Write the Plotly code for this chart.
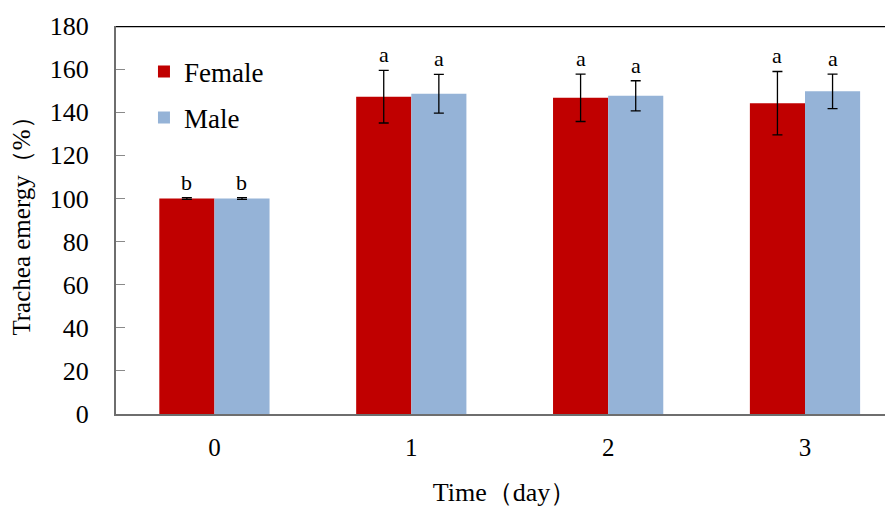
import plotly.graph_objects as go

days = [0, 1, 2, 3]
day_labels = ["0", "1", "2", "3"]
female = [100.0, 147.2, 146.7, 144.2]
female_err = [0.4, 12.2, 11.0, 14.7]
male = [100.0, 148.6, 147.6, 149.7]
male_err = [0.4, 9.0, 7.0, 8.0]
female_sig = ["b", "a", "a", "a"]
male_sig = ["b", "a", "a", "a"]

FONT = "Liberation Serif"
RED = "#C00000"
BLUE = "#95B3D7"
BARGAP = 0.44
half = (1 - BARGAP) / 4  # offset of each bar center from category center

fig = go.Figure()
fig.add_trace(go.Bar(
    x=days, y=female, name="Female", marker=dict(color=RED, line=dict(width=0)),
    error_y=dict(type="data", array=female_err, color="black", thickness=1.3, width=5),
    legendgroup="f",
))
fig.add_trace(go.Bar(
    x=days, y=male, name="Male", marker=dict(color=BLUE, line=dict(width=0)),
    error_y=dict(type="data", array=male_err, color="black", thickness=1.3, width=5),
    legendgroup="m",
))

for d, v, e, s in zip(days, female, female_err, female_sig):
    fig.add_annotation(x=d - half, y=v + e, text=s, showarrow=False, yanchor="bottom",
                       yshift=1, font=dict(family=FONT, size=22, color="black"))
for d, v, e, s in zip(days, male, male_err, male_sig):
    fig.add_annotation(x=d + half, y=v + e, text=s, showarrow=False, yanchor="bottom",
                       yshift=1, font=dict(family=FONT, size=22, color="black"))

# top frame line
fig.add_shape(type="line", xref="paper", x0=0, x1=1, yref="y", y0=180, y1=180,
              line=dict(color="black", width=2.5))

fig.update_layout(
    width=885, height=499,
    margin=dict(l=108, r=0, t=18, b=93, autoexpand=False),
    paper_bgcolor="white", plot_bgcolor="white",
    barmode="group", bargap=BARGAP, bargroupgap=0,
    font=dict(family=FONT, color="black"),
    showlegend=True,
    legend=dict(x=0.036, y=0.945, xanchor="left", yanchor="top",
                font=dict(family=FONT, size=27, color="black"),
                bgcolor="rgba(0,0,0,0)", tracegroupgap=8),
    xaxis=dict(
        tickmode="array", tickvals=days, ticktext=day_labels,
        range=[-0.5, 3.447], showline=True, linecolor="#6e6e6e", linewidth=2,
        ticks="", showgrid=False, zeroline=False, ticklabelstandoff=10,
        tickfont=dict(family=FONT, size=25, color="black"),
        title=dict(text="Time（day）", font=dict(family=FONT, size=26, color="black"), standoff=28),
    ),
    yaxis=dict(
        range=[0, 180], tickmode="linear", tick0=0, dtick=20,
        showline=True, linecolor="#6e6e6e", linewidth=2,
        ticks="inside", ticklen=9, tickcolor="#8a8a8a", tickwidth=1,
        showgrid=False, zeroline=False, ticklabelstandoff=20,
        tickfont=dict(family=FONT, size=26, color="black"),
        title=dict(text="Trachea emergy（%）", font=dict(family=FONT, size=25, color="black"), standoff=12),
    ),
)

fig.write_html("out.html")
